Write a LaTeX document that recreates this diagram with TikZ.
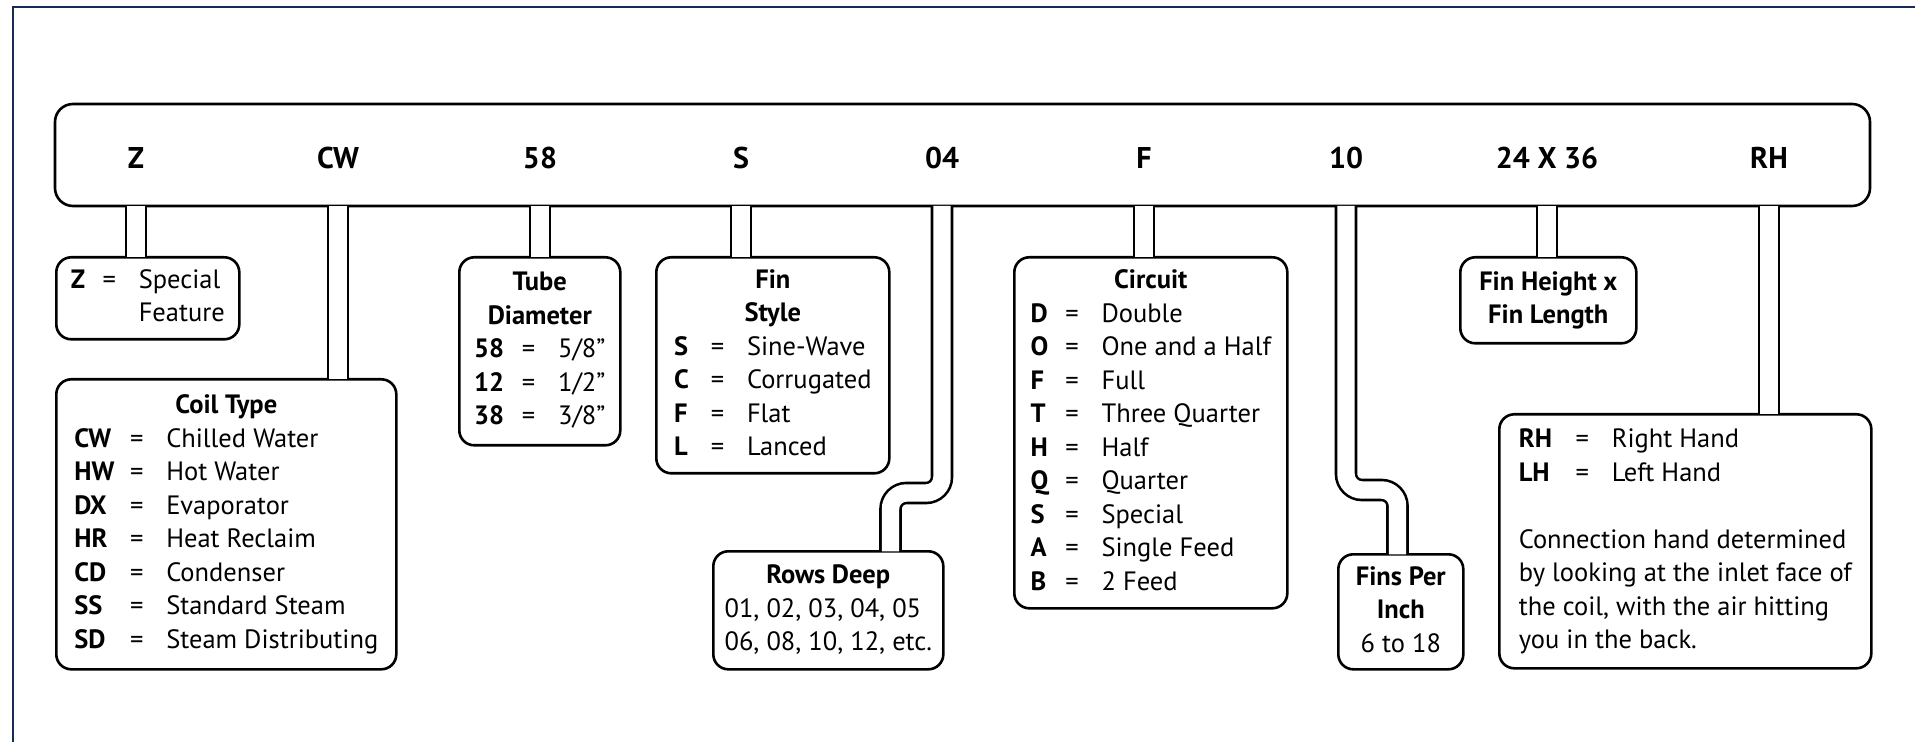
\documentclass[tikz,border=0pt]{standalone}
\usepackage{fontspec}
\setmainfont{PT Sans}
\definecolor{framenavy}{RGB}{22,44,84}
\newcommand{\keyrow}[3]{\makebox[#1][l]{\bfseries #2}\makebox[29.5pt]{=}#3}

\begin{document}
\begin{tikzpicture}[x=0.5pt,y=-0.5pt,
    outline/.style={draw, line width=1.3pt, rounded corners=7.5pt, inner sep=0pt},
    infobox/.style={outline, anchor=north west, font=\fontsize{13.25}{16.75}\selectfont},
    codelabel/.style={font=\fontsize{15}{18}\selectfont\bfseries},
    stem/.style={line width=1.3pt, double=white, double distance=8.7pt,
      shorten <=-0.65pt, shorten >=-0.65pt, rounded corners=8pt}]

  \useasboundingbox (0,0) rectangle (1915,742);
  \draw[framenavy, line width=1.2pt] (13,742) -- (13,7) -- (1915,7);

  % model code bar
  \node[outline, rounded corners=9pt, minimum width=907.5pt, minimum height=51pt] (code) at (962.5,155) {};
  \foreach \x/\name/\txt in {136/lz/Z, 338/lcw/CW, 540/l58/58, 741/ls/S, 942/l04/04,
      1144/lf/F, 1346/l10/10, 1547/lsize/24 X 36, 1769/lrh/RH}
    \node[codelabel] (\name) at (\x,158) {\txt};

  % legend boxes
  \node[infobox, minimum width=91.5pt, minimum height=41pt] (zbox) at (55,256) {%
    \begin{tabular}{@{}l@{}}
      \keyrow{4.5pt}{Z}{Special}\\
      \hspace*{34pt}Feature
    \end{tabular}};

  \node[infobox, minimum width=170pt, minimum height=145pt] (coil) at (55,378) {%
    \begin{tabular}{@{}l@{}}
      \multicolumn{1}{@{}c@{}}{\bfseries Coil Type}\\
      \keyrow{16.5pt}{CW}{Chilled Water}\\
      \keyrow{16.5pt}{HW}{Hot Water}\\
      \keyrow{16.5pt}{DX}{Evaporator}\\
      \keyrow{16.5pt}{HR}{Heat Reclaim}\\
      \keyrow{16.5pt}{CD}{Condenser}\\
      \keyrow{16.5pt}{SS}{Standard Steam}\\
      \keyrow{16.5pt}{SD}{Steam Distributing}
    \end{tabular}};

  \node[infobox, minimum width=80.5pt, minimum height=94pt] (tube) at (458,256) {%
    \begin{tabular}{@{}l@{}}
      \multicolumn{1}{@{}c@{}}{\bfseries Tube}\\
      \multicolumn{1}{@{}c@{}}{\bfseries Diameter}\\
      \keyrow{12.5pt}{58}{5/8”}\\
      \keyrow{12.5pt}{12}{1/2”}\\
      \keyrow{12.5pt}{38}{3/8”}
    \end{tabular}};

  \node[infobox, minimum width=116.5pt, minimum height=108pt] (finstyle) at (655,256) {%
    \begin{tabular}{@{}l@{}}
      \multicolumn{1}{@{}c@{}}{\bfseries Fin}\\
      \multicolumn{1}{@{}c@{}}{\bfseries Style}\\
      \keyrow{7pt}{S}{Sine-Wave}\\
      \keyrow{7pt}{C}{Corrugated}\\
      \keyrow{7pt}{F}{Flat}\\
      \keyrow{7pt}{L}{Lanced}
    \end{tabular}};

  \node[infobox, minimum width=115pt, minimum height=59pt] (rows) at (712,550) {%
    \begin{tabular}{@{}l@{}}
      \multicolumn{1}{@{}c@{}}{\bfseries Rows Deep}\\
      01, 02, 03, 04, 05\\
      06, 08, 10, 12, etc.
    \end{tabular}};

  \node[infobox, minimum width=136.5pt, minimum height=175.5pt] (circuit) at (1013,256) {%
    \begin{tabular}{@{}l@{}}
      \multicolumn{1}{@{}c@{}}{\bfseries Circuit}\\
      \keyrow{6pt}{D}{Double}\\
      \keyrow{6pt}{O}{One and a Half}\\
      \keyrow{6pt}{F}{Full}\\
      \keyrow{6pt}{T}{Three Quarter}\\
      \keyrow{6pt}{H}{Half}\\
      \keyrow{6pt}{Q}{Quarter}\\
      \keyrow{6pt}{S}{Special}\\
      \keyrow{6pt}{A}{Single Feed}\\
      \keyrow{6pt}{B}{2 Feed}
    \end{tabular}};

  \node[infobox, minimum width=62.5pt, minimum height=57.5pt] (fins) at (1337,553) {%
    \begin{tabular}{@{}c@{}}
      \bfseries Fins Per\\
      \bfseries Inch\\
      6 to 18
    \end{tabular}};

  \node[infobox, minimum width=88pt, minimum height=43pt] (size) at (1459,256) {%
    \begin{tabular}{@{}c@{}}
      \bfseries Fin Height x\\
      \bfseries Fin Length
    \end{tabular}};

  \node[infobox, minimum width=186pt, minimum height=127pt] (hand) at (1498,413) {%
    \begin{tabular}{@{}l@{}}
      \keyrow{17pt}{RH}{Right Hand}\\
      \keyrow{17pt}{LH}{Left Hand}\\[16.75pt]
      Connection hand determined\\
      by looking at the inlet face of\\
      the coil, with the air hitting\\
      you in the back.
    \end{tabular}};

  % stems from the bar to the boxes
  \coordinate (j04) at (890.5,493);
  \coordinate (j10) at (1397.5,490);

  \foreach \lab/\target in {lz/zbox, lcw/coil, l58/tube, ls/finstyle, lf/circuit, lsize/size, lrh/hand}
    \draw[stem] (\lab |- code.south) -- (\lab |- \target.north);
  \draw[stem] (l04 |- code.south) |- (j04) -- (j04 |- rows.north);
  \draw[stem] (l10 |- code.south) |- (j10) -- (j10 |- fins.north);

\end{tikzpicture}
\end{document}
